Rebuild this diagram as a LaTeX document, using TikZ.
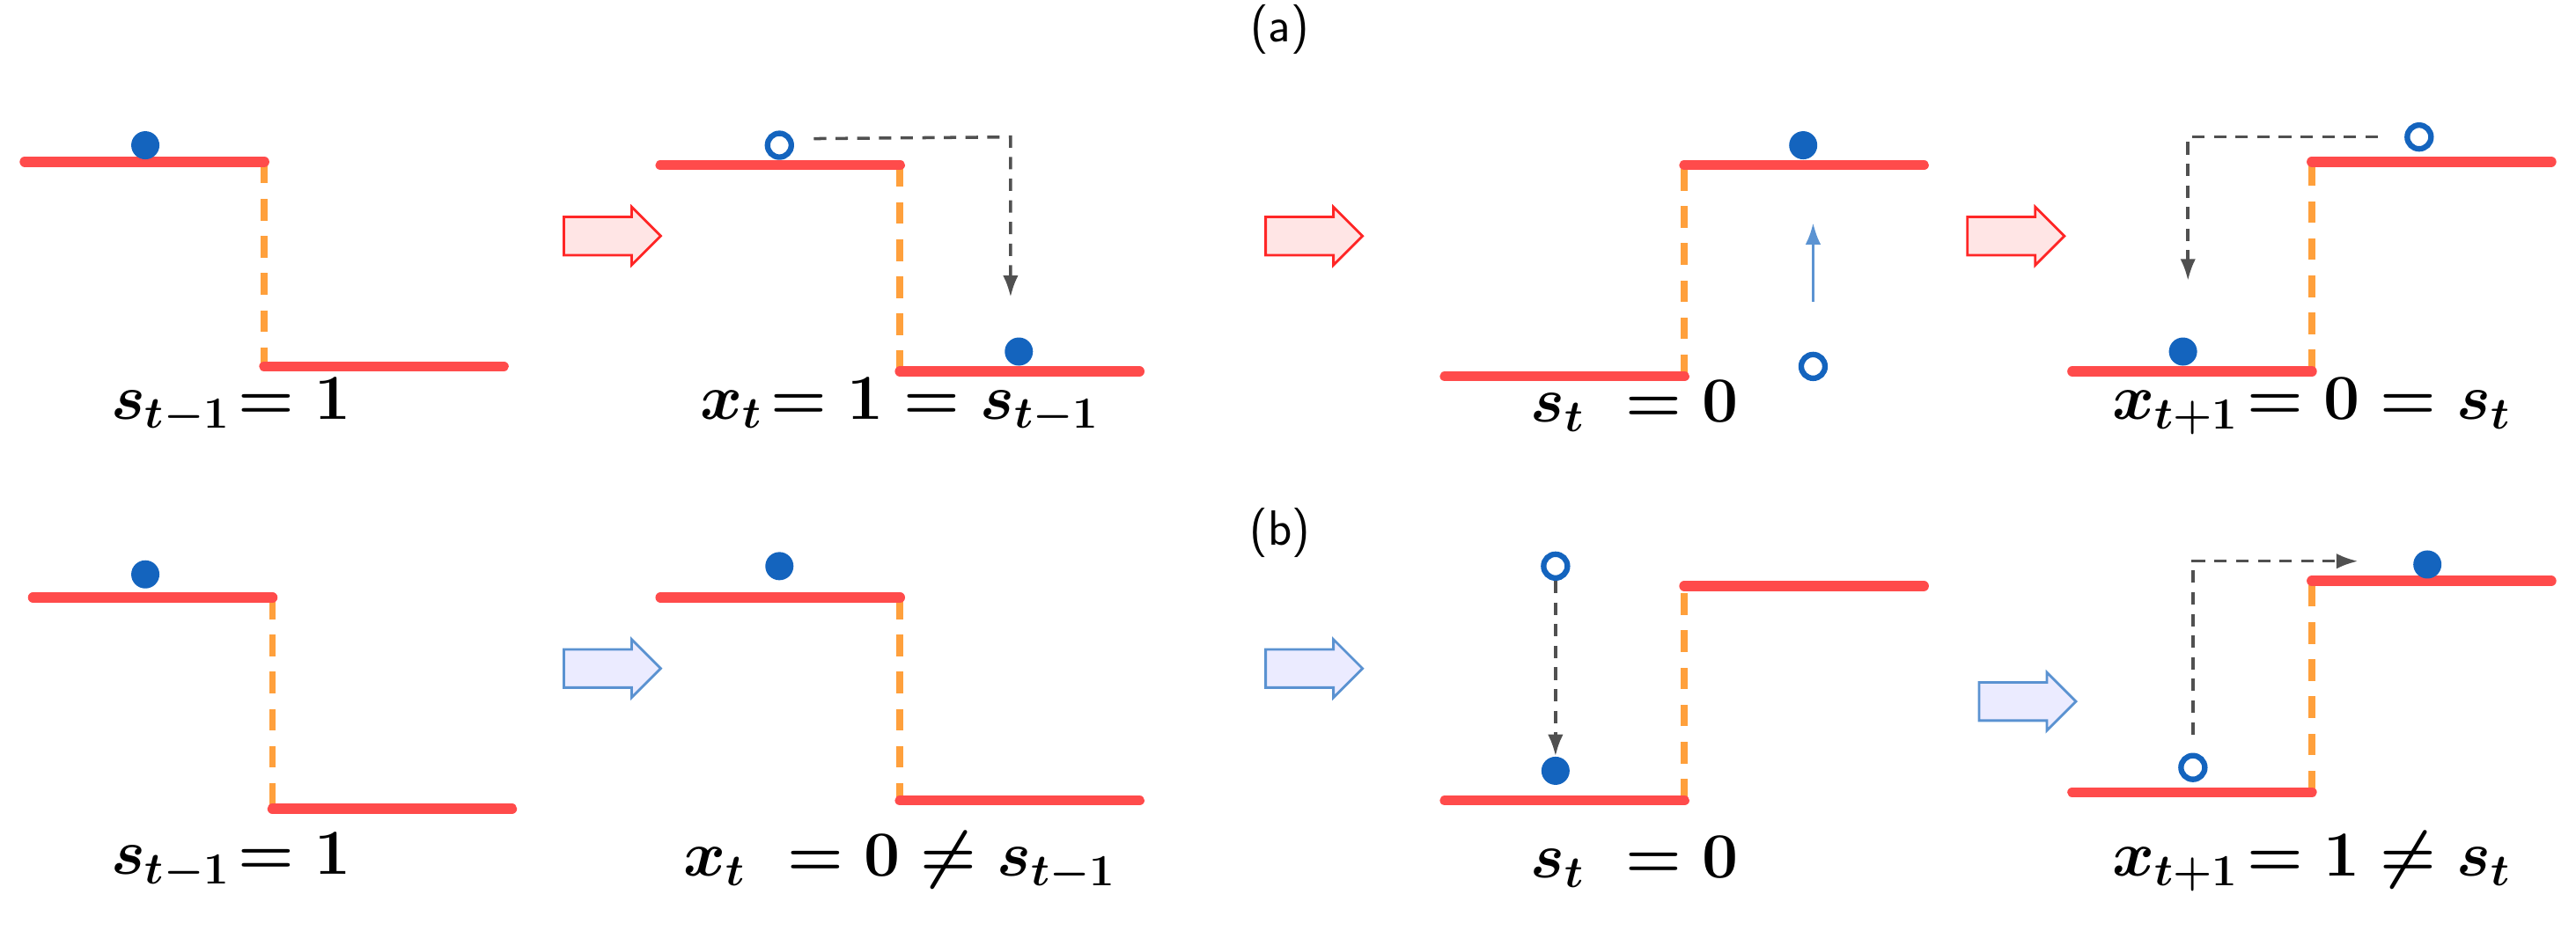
\documentclass[tikz,border=0pt]{standalone}
\usepackage{amsmath}
\usetikzlibrary{shapes.arrows,arrows.meta}
\definecolor{lred}{RGB}{255,75,75}
\definecolor{lorange}{RGB}{255,160,60}
\definecolor{dotblue}{RGB}{20,100,190}
\definecolor{dgray}{RGB}{80,80,80}
\begin{document}
\begin{tikzpicture}[x=0.01876cm,y=-0.01876cm,
  lvl/.style={lred,line width=3.3pt,line cap=round},
  stp/.style={lorange,line width=2.2pt,dash pattern=on 7pt off 5pt},
  fdot/.style={circle,fill=dotblue,inner sep=0pt,minimum size=0.32cm},
  odot/.style={circle,draw=dotblue,line width=1.8pt,fill=white,inner sep=0pt,minimum size=0.27cm},
  garr/.style={dgray,line width=1pt,dash pattern=on 4pt off 3pt,-{Latex[length=7pt,width=5pt]}},
  blk/.style={single arrow,line width=0.8pt,inner xsep=0pt,inner ysep=0.14cm,minimum width=0.66cm,single arrow head extend=0.08cm,minimum height=1.1cm},
  rblk/.style={blk,draw=red!85,fill=red!10},
  bblk/.style={blk,draw=dotblue!70,fill=blue!8},
  lab/.style={font=\fontsize{22}{26}\selectfont\boldmath},
  ttl/.style={font=\sffamily\fontsize{16}{19}\selectfont}]
\useasboundingbox (0,0) rectangle (1560,564);
\node[ttl] (ta) at (775,18) {(a)};
\node[ttl] (tb) at (775,323) {(b)};
% ---------- row a ----------
\coordinate (a1u) at (15,98); \coordinate (a1c) at (160,98); \coordinate (a1d) at (160,222); \coordinate (a1l) at (305,222);
\draw[stp] (a1c) -- (a1d);
\draw[lvl] (a1u) -- (a1c); \draw[lvl] (a1d) -- (a1l);
\node[fdot] (a1p) at (88,88) {};
\node[lab] (a1t) at (140,246) {$s_{t-1}\!=1$};
\node[rblk] (ar1) at (365,143) {};
\coordinate (a2u) at (400,100); \coordinate (a2c) at (545,100); \coordinate (a2d) at (545,225); \coordinate (a2l) at (690,225);
\draw[stp] (a2c) -- (a2d);
\draw[lvl] (a2u) -- (a2c); \draw[lvl] (a2d) -- (a2l);
\node[odot] (a2o) at (472,88) {};
\node[fdot] (a2p) at (617,213) {};
\coordinate (a2k) at (612,83); \coordinate (a2e) at (612,180);
\draw[garr] (a2o.east) ++(12,-4) -- (a2k) -- (a2e);
\node[lab] (a2t) at (545,246) {$x_t\!=1=s_{t-1}$};
\node[rblk] (ar2) at (790,143) {};
\coordinate (a3l) at (875,228); \coordinate (a3c) at (1020,228); \coordinate (a3d) at (1020,100); \coordinate (a3u) at (1165,100);
\draw[stp] (a3c) -- (a3d);
\draw[lvl] (a3l) -- (a3c); \draw[lvl] (a3d) -- (a3u);
\node[fdot] (a3p) at (1092,88) {};
\node[odot] (a3o) at (1098,222) {};
\coordinate (a3s) at (1098,183); \coordinate (a3e) at (1098,135);
\draw[dotblue!70,line width=1pt,-{Latex[length=7pt,width=5pt]}] (a3s) -- (a3e);
\node[lab] (a3t) at (990,246) {$s_t\;=0$};
\node[rblk] (ar3) at (1215,143) {};
\coordinate (a4l) at (1255,225); \coordinate (a4c) at (1400,225); \coordinate (a4d) at (1400,98); \coordinate (a4u) at (1545,98);
\draw[stp] (a4c) -- (a4d);
\draw[lvl] (a4l) -- (a4c); \draw[lvl] (a4d) -- (a4u);
\node[odot] (a4o) at (1465,83) {};
\node[fdot] (a4p) at (1322,213) {};
\coordinate (a4s) at (1440,83); \coordinate (a4k) at (1325,83); \coordinate (a4e) at (1325,170);
\draw[garr] (a4s) -- (a4k) -- (a4e);
\node[lab] (a4t) at (1400,246) {$x_{t+1}\!=0=s_t$};
% ---------- row b ----------
\coordinate (b1u) at (20,362); \coordinate (b1c) at (165,362); \coordinate (b1d) at (165,490); \coordinate (b1l) at (310,490);
\draw[stp] (b1c) -- (b1d);
\draw[lvl] (b1u) -- (b1c); \draw[lvl] (b1d) -- (b1l);
\node[fdot] (b1p) at (88,348) {};
\node[lab] (b1t) at (140,522) {$s_{t-1}\!=1$};
\node[bblk] (br1) at (365,405) {};
\coordinate (b2u) at (400,362); \coordinate (b2c) at (545,362); \coordinate (b2d) at (545,485); \coordinate (b2l) at (690,485);
\draw[stp] (b2c) -- (b2d);
\draw[lvl] (b2u) -- (b2c); \draw[lvl] (b2d) -- (b2l);
\node[fdot] (b2p) at (472,343) {};
\node[lab] (b2t) at (545,522) {$x_t\;=0\neq s_{t-1}$};
\node[bblk] (br2) at (790,405) {};
\coordinate (b3l) at (875,485); \coordinate (b3c) at (1020,485); \coordinate (b3d) at (1020,355); \coordinate (b3u) at (1165,355);
\draw[stp] (b3c) -- (b3d);
\draw[lvl] (b3l) -- (b3c); \draw[lvl] (b3d) -- (b3u);
\node[odot] (b3o) at (942,343) {};
\node[fdot] (b3p) at (942,467) {};
\draw[garr] (b3o) -- (b3p);
\node[lab] (b3t) at (990,522) {$s_t\;=0$};
\node[bblk] (br3) at (1222,425) {};
\coordinate (b4l) at (1255,480); \coordinate (b4c) at (1400,480); \coordinate (b4d) at (1400,352); \coordinate (b4u) at (1545,352);
\draw[stp] (b4c) -- (b4d);
\draw[lvl] (b4l) -- (b4c); \draw[lvl] (b4d) -- (b4u);
\node[odot] (b4o) at (1328,465) {};
\node[fdot] (b4p) at (1470,342) {};
\coordinate (b4s) at (1328,445); \coordinate (b4k) at (1328,340); \coordinate (b4e) at (1428,340);
\draw[garr] (b4s) -- (b4k) -- (b4e);
\node[lab] (b4t) at (1400,522) {$x_{t+1}\!=1\neq s_t$};
\end{tikzpicture}
\end{document}
